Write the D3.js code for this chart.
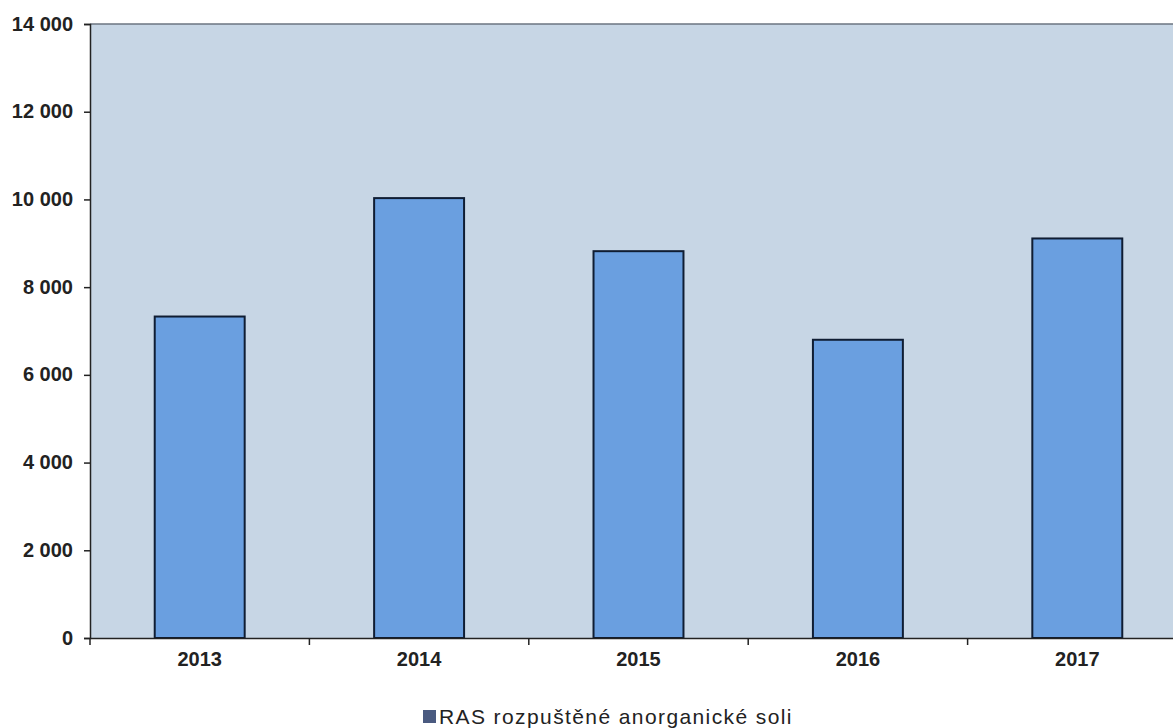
<!DOCTYPE html>
<html><head><meta charset="utf-8">
<script src="https://cdn.jsdelivr.net/npm/d3@7"></script>
<style>body{margin:0;background:#fff;overflow:hidden}svg{display:block}</style>
</head><body>
<script>
const categories = ["2013","2014","2015","2016","2017"];
const values = [7330, 10030, 8820, 6800, 9110];
const yTicks = [0,2000,4000,6000,8000,10000,12000,14000];
const seriesName = "RAS rozpuštěné anorganické soli";

const W = 1173, H = 728;
const svg = d3.select("body").append("svg").attr("width", W).attr("height", H);
const x0 = 90, x1 = 1187, yTop = 24, yBot = 638;
const x = d3.scaleBand().domain(categories).range([x0, x1]).paddingInner(0.59).paddingOuter(0.295);
const y = d3.scaleLinear().domain([0,14000]).range([yBot, yTop]);
const FONT = "Liberation Sans, Arial, sans-serif";

svg.append("rect").attr("x", x0).attr("y", yTop).attr("width", W - x0).attr("height", yBot - yTop).attr("fill", "#c7d6e5");
svg.append("line").attr("x1", x0).attr("x2", W).attr("y1", yTop).attr("y2", yTop).attr("stroke", "#6b7480").attr("stroke-width", 1.5);

svg.selectAll("rect.bar").data(values).enter().append("rect").attr("class","bar")
  .attr("x", (d,i) => x(categories[i]))
  .attr("y", d => y(d))
  .attr("width", x.bandwidth())
  .attr("height", d => yBot - y(d))
  .attr("fill", "#6a9fe0").attr("stroke", "#0f1d33").attr("stroke-width", 2);

const fmt = d => d3.format(",")(d).replace(/,/g, " ");
const yAxis = svg.append("g").attr("transform", `translate(${x0},0)`)
  .call(d3.axisLeft(y).tickValues(yTicks).tickFormat(fmt).tickSize(6).tickPadding(11));
yAxis.select(".domain").attr("stroke", "#222").attr("stroke-width", 1.5);
yAxis.selectAll(".tick line").attr("stroke", "#222").attr("stroke-width", 1.5);
yAxis.selectAll("text").attr("font-family", FONT).attr("font-weight", "bold").attr("font-size", 20).attr("fill", "#222").attr("dy", "0.3em");

const xAxis = svg.append("g").attr("transform", `translate(0,${yBot})`)
  .call(d3.axisBottom(x).tickSize(0).tickPadding(14));
xAxis.select(".domain").attr("stroke", "#222").attr("stroke-width", 1.5);
xAxis.selectAll("text").attr("font-family", FONT).attr("font-weight", "bold").attr("font-size", 20).attr("fill", "#222");
const step = x.step();
const bounds = d3.range(0, categories.length + 1).map(i => x0 + i * step);
xAxis.selectAll("line.sep").data(bounds).enter().append("line").attr("class","sep")
  .attr("x1", d => d).attr("x2", d => d).attr("y1", 0).attr("y2", 7)
  .attr("stroke", "#222").attr("stroke-width", 1.5);

const lg = svg.append("g").attr("transform", "translate(423,710)");
lg.append("rect").attr("width", 13).attr("height", 13).attr("fill", "#4a5a80");
lg.append("text").attr("x", 16).attr("y", 14).text(seriesName)
  .attr("font-family", FONT).attr("font-size", 21).attr("letter-spacing", 1.4).attr("fill", "#222");
</script>
</body></html>
